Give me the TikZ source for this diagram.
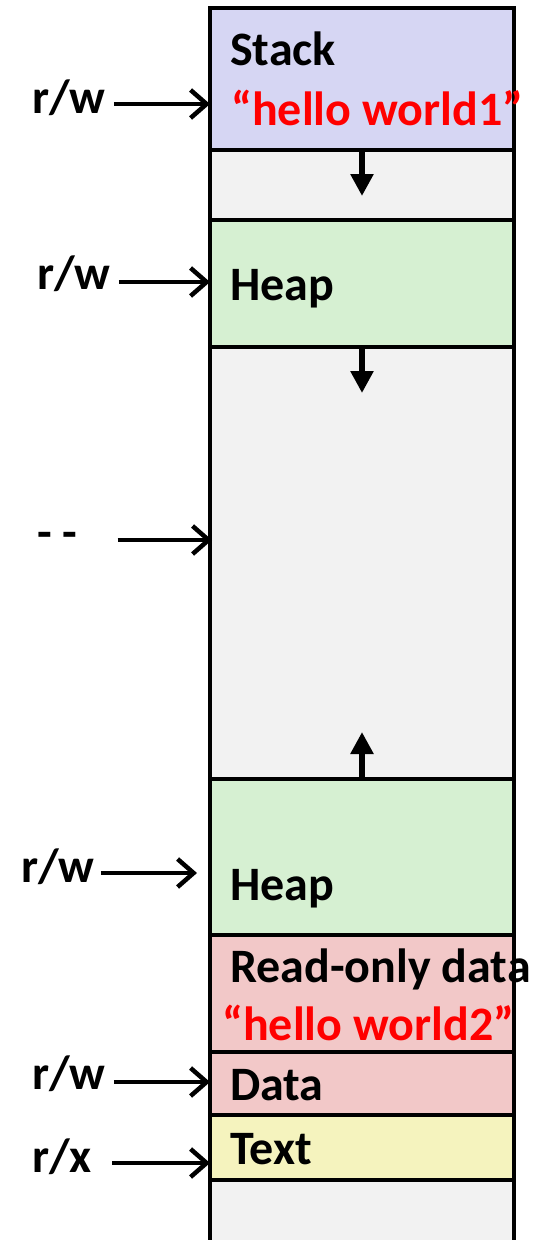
\documentclass[tikz,border=0pt]{standalone}
\usepackage{fontspec}
\setmainfont{Carlito}
\usetikzlibrary{arrows.meta}
\definecolor{stackfill}{RGB}{214,214,243}
\definecolor{heapfill}{RGB}{214,240,210}
\definecolor{datafill}{RGB}{242,200,200}
\definecolor{textfill}{RGB}{245,243,190}
\definecolor{freefill}{RGB}{242,242,242}
\definecolor{strred}{RGB}{255,0,0}
\tikzset{
  seg/.style={draw=black, line width=4.5pt, minimum width=304pt, inner sep=0pt, outer sep=0pt},
  lbl/.style={font=\fontsize{48}{52}\bfseries\selectfont, inner sep=0pt, anchor=base west},
  strlbl/.style={lbl, text=strred},
  perm/.style={line width=4.5pt, -{Straight Barb[length=16pt,width=28pt,line width=4.5pt]}},
  growarrow/.style={line width=6pt, -{Triangle[length=22pt,width=22pt]}}
}
\begin{document}
\begin{tikzpicture}[x=1pt,y=-1pt]
\useasboundingbox (0,0) rectangle (539,1240);
\clip (0,0) rectangle (539,1240);
% segments of the address space, top to bottom
\fill[freefill] (210,1180) rectangle (514,1260);
\draw[line width=4.5pt] (210,1180) -- (210,1260) (514,1180) -- (514,1260);
\node[seg, fill=freefill, minimum height=432pt] (gap2) at (362,563) {};
\node[seg, fill=freefill, minimum height=70pt] (gap1) at (362,185) {};
\node[seg, fill=stackfill, minimum height=142pt] (stack) at (362,79) {};
\node[seg, fill=heapfill, minimum height=127pt] (heapA) at (362,283.5) {};
\node[seg, fill=heapfill, minimum height=156pt] (heapB) at (362,857) {};
\node[seg, fill=datafill, minimum height=117pt] (rodata) at (362,993.5) {};
\node[seg, fill=datafill, minimum height=63pt] (data) at (362,1083.5) {};
\node[seg, fill=textfill, minimum height=65pt] (text) at (362,1147.5) {};
% segment names
\node[lbl] (stackname) at (230,65) {Stack};
\node[strlbl] (str1) at (231,125) {“hello world1”};
\node[lbl] (heapAname) at (230,300) {Heap};
\node[lbl] (heapBname) at (230,900) {Heap};
\node[lbl] (rodataname) at (230,982) {Read-only data};
\node[strlbl] (str2) at (222,1040) {“hello world2”};
\node[lbl] (dataname) at (230,1100) {Data};
\node[lbl] (textname) at (230,1164) {Text};
% permission labels
\node[lbl] (p1) at (32,113) {r/w};
\node[lbl] (p2) at (37,289) {r/w};
\node[lbl] (p3) at (37,548) {- -};
\node[lbl] (p4) at (21,882) {r/w};
\node[lbl] (p5) at (32,1089) {r/w};
\node[lbl] (p6) at (32,1172) {r/x};
\coordinate (e3) at (212,540);
\coordinate (e4) at (197,873);
\draw[perm] (p1.east |- 0,104) ++(8,0) -- (stack.west |- 0,104);
\draw[perm] (p2.east |- 0,282) ++(8,0) -- (heapA.west |- 0,282);
\draw[perm] (p3.east |- 0,540) ++(40,0) -- (e3);
\draw[perm] (p4.east |- 0,873) ++(6,0) -- (e4);
\draw[perm] (p5.east |- 0,1082) ++(8,0) -- (data.west |- 0,1082);
\draw[perm] (p6.east |- 0,1163) ++(20,0) -- (text.west |- 0,1163);
% growth directions
\coordinate (t1) at (362,196);
\coordinate (t2) at (362,393);
\coordinate (t3) at (362,732);
\draw[growarrow] (stack.south) -- (t1);
\draw[growarrow] (heapA.south) -- (t2);
\draw[growarrow] (heapB.north) -- (t3);
\end{tikzpicture}
\end{document}
